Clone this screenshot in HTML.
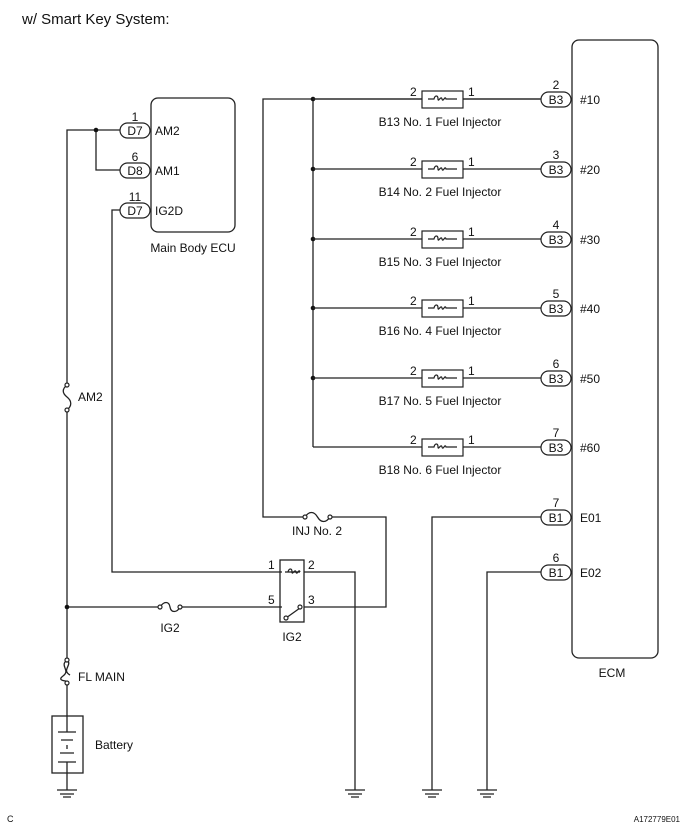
<!DOCTYPE html>
<html><head><style>body{margin:0;background:#fff}svg{display:block}text{font-family:"Liberation Sans",Arial,sans-serif;fill:#111}</style></head><body>
<svg width="686" height="832" viewBox="0 0 686 832" xmlns="http://www.w3.org/2000/svg">
<g stroke="#222" stroke-width="1.3" fill="none">
<rect x="572" y="40" width="86" height="618" rx="7"/>
<rect x="151" y="98" width="84" height="134" rx="7"/>
<!-- left main wire -->
<path d="M120 130H67V385M67 410V660M67 683V716"/>
<path d="M96 130V170H120"/>
<path d="M120 210H112V572H282"/>
<path d="M67 607H160M180 607H282"/>
<!-- AM2 fuse -->
<path d="M67 385c-5 4-5 8 0 12s5 9 0 13"/>
<!-- IG2 fuse -->
<path d="M160 607c4-6 9-6 10 0s7 6 10 0"/>
<!-- relay -->
<rect x="280" y="560" width="24" height="62"/>
<path d="M304 572H355V790M304 607H386V517H330M305 517H263V99H540"/>
<path d="M285 572H300"/>
<path d="M286 618L300 608"/>
<!-- INJ fuse -->
<path d="M305 517c4-6 9-6 12.5 0s8.5 6 12.5 0"/>
<path d="M313 99V447"/>
<!-- E01/E02 -->
<path d="M541 517H432V790M541 572H487V790"/>
<!-- battery -->
<rect x="52" y="716" width="31" height="57"/>
<path d="M67 716V732M67 762V790M58 732H76M61 740H73M67 745V749M60 753H74M58 762H76"/>
<!-- grounds -->
<path d="M57 790H77M60 794H74M63 797H71M345 790H365M348 794H362M351 797H359M422 790H442M425 794H439M428 797H436M477 790H497M480 794H494M483 797H491"/>
<!-- FL main -->
<path d="M67 660c-8 6 4 10-4 16s8 4 4 7M67 660c6 5-6 10 3 15"/>
</g>
<g fill="#111"><circle cx="96" cy="130" r="2.3"/><circle cx="67" cy="607" r="2.3"/><circle cx="313" cy="99" r="2.3"/>
<circle cx="313" cy="169" r="2.3"/><circle cx="313" cy="239" r="2.3"/><circle cx="313" cy="308" r="2.3"/><circle cx="313" cy="378" r="2.3"/></g>
<g fill="#fff" stroke="#222" stroke-width="1.2"><circle cx="67" cy="385" r="2"/><circle cx="67" cy="410" r="2"/><circle cx="160" cy="607" r="2"/><circle cx="180" cy="607" r="2"/><circle cx="305" cy="517" r="2"/><circle cx="330" cy="517" r="2"/><circle cx="67" cy="660" r="2"/><circle cx="67" cy="683" r="2"/><circle cx="286" cy="618" r="2"/><circle cx="300" cy="607" r="2"/></g>
<path d="M288 572c1-4 4-4 4 0s3-4 4 0s3-4 4 0" stroke="#222" fill="none" stroke-width="1.2"/>
<!-- connectors ECU -->
<g font-size="12">
<g stroke="#222" stroke-width="1.2" fill="#fff"><rect x="120" y="123" width="30" height="15" rx="7.5"/><rect x="120" y="163" width="30" height="15" rx="7.5"/><rect x="120" y="203" width="30" height="15" rx="7.5"/></g>
<text x="135" y="135" text-anchor="middle">D7</text><text x="135" y="175" text-anchor="middle">D8</text><text x="135" y="215" text-anchor="middle">D7</text>
<text x="135" y="121" text-anchor="middle">1</text><text x="135" y="161" text-anchor="middle">6</text><text x="135" y="201" text-anchor="middle">11</text>
<text x="155" y="135">AM2</text><text x="155" y="175">AM1</text><text x="155" y="215">IG2D</text>
<text x="193" y="252" text-anchor="middle">Main Body ECU</text>
<text x="78" y="401">AM2</text><text x="170" y="632" text-anchor="middle">IG2</text>
<text x="292" y="641" text-anchor="middle">IG2</text>
<text x="317" y="535" text-anchor="middle">INJ No. 2</text>
<text x="268" y="569">1</text><text x="308" y="569">2</text><text x="268" y="604">5</text><text x="308" y="604">3</text>
<text x="78" y="681">FL MAIN</text><text x="95" y="749">Battery</text>
<text x="612" y="677" text-anchor="middle">ECM</text>
<g stroke="#222" stroke-width="1.2" fill="#fff"><rect x="541" y="510" width="30" height="15" rx="7.5"/><rect x="541" y="565" width="30" height="15" rx="7.5"/></g>
<text x="556" y="522" text-anchor="middle">B1</text><text x="556" y="577" text-anchor="middle">B1</text>
<text x="556" y="507" text-anchor="middle">7</text><text x="556" y="562" text-anchor="middle">6</text>
<text x="580" y="522">E01</text><text x="580" y="577">E02</text>
</g>
<g font-size="12">
<g id="inj">
</g>
</g>
<g font-size="12" stroke-width="1.2">
<!-- injectors -->
<g transform="translate(0,0)"><path d="M313 99H541" stroke="#222"/><rect x="422" y="91" width="41" height="17" fill="#fff" stroke="#222"/><path d="M428 99H434c1-4 4-4 4 0s3-4 4 0s3-4 4 0H457" stroke="#222" fill="none"/><rect x="541" y="92" width="30" height="15" rx="7.5" fill="#fff" stroke="#222"/><text x="556" y="104" text-anchor="middle">B3</text><text x="556" y="89" text-anchor="middle">2</text><text x="580" y="104">#10</text><text x="410" y="96">2</text><text x="468" y="96">1</text><text x="440" y="126" text-anchor="middle">B13 No. 1 Fuel Injector</text></g>
<g transform="translate(0,70)"><path d="M313 99H541" stroke="#222"/><rect x="422" y="91" width="41" height="17" fill="#fff" stroke="#222"/><path d="M428 99H434c1-4 4-4 4 0s3-4 4 0s3-4 4 0H457" stroke="#222" fill="none"/><rect x="541" y="92" width="30" height="15" rx="7.5" fill="#fff" stroke="#222"/><text x="556" y="104" text-anchor="middle">B3</text><text x="556" y="89" text-anchor="middle">3</text><text x="580" y="104">#20</text><text x="410" y="96">2</text><text x="468" y="96">1</text><text x="440" y="126" text-anchor="middle">B14 No. 2 Fuel Injector</text></g>
<g transform="translate(0,140)"><path d="M313 99H541" stroke="#222"/><rect x="422" y="91" width="41" height="17" fill="#fff" stroke="#222"/><path d="M428 99H434c1-4 4-4 4 0s3-4 4 0s3-4 4 0H457" stroke="#222" fill="none"/><rect x="541" y="92" width="30" height="15" rx="7.5" fill="#fff" stroke="#222"/><text x="556" y="104" text-anchor="middle">B3</text><text x="556" y="89" text-anchor="middle">4</text><text x="580" y="104">#30</text><text x="410" y="96">2</text><text x="468" y="96">1</text><text x="440" y="126" text-anchor="middle">B15 No. 3 Fuel Injector</text></g>
<g transform="translate(0,209)"><path d="M313 99H541" stroke="#222"/><rect x="422" y="91" width="41" height="17" fill="#fff" stroke="#222"/><path d="M428 99H434c1-4 4-4 4 0s3-4 4 0s3-4 4 0H457" stroke="#222" fill="none"/><rect x="541" y="92" width="30" height="15" rx="7.5" fill="#fff" stroke="#222"/><text x="556" y="104" text-anchor="middle">B3</text><text x="556" y="89" text-anchor="middle">5</text><text x="580" y="104">#40</text><text x="410" y="96">2</text><text x="468" y="96">1</text><text x="440" y="126" text-anchor="middle">B16 No. 4 Fuel Injector</text></g>
<g transform="translate(0,279)"><path d="M313 99H541" stroke="#222"/><rect x="422" y="91" width="41" height="17" fill="#fff" stroke="#222"/><path d="M428 99H434c1-4 4-4 4 0s3-4 4 0s3-4 4 0H457" stroke="#222" fill="none"/><rect x="541" y="92" width="30" height="15" rx="7.5" fill="#fff" stroke="#222"/><text x="556" y="104" text-anchor="middle">B3</text><text x="556" y="89" text-anchor="middle">6</text><text x="580" y="104">#50</text><text x="410" y="96">2</text><text x="468" y="96">1</text><text x="440" y="126" text-anchor="middle">B17 No. 5 Fuel Injector</text></g>
<g transform="translate(0,348)"><path d="M313 99H541" stroke="#222"/><rect x="422" y="91" width="41" height="17" fill="#fff" stroke="#222"/><path d="M428 99H434c1-4 4-4 4 0s3-4 4 0s3-4 4 0H457" stroke="#222" fill="none"/><rect x="541" y="92" width="30" height="15" rx="7.5" fill="#fff" stroke="#222"/><text x="556" y="104" text-anchor="middle">B3</text><text x="556" y="89" text-anchor="middle">7</text><text x="580" y="104">#60</text><text x="410" y="96">2</text><text x="468" y="96">1</text><text x="440" y="126" text-anchor="middle">B18 No. 6 Fuel Injector</text></g>
</g>
<text x="22" y="24" font-size="15">w/ Smart Key System:</text>
<text x="7" y="822" font-size="9">C</text>
<text x="680" y="822" font-size="8" text-anchor="end">A172779E01</text>
</svg>
</body></html>
